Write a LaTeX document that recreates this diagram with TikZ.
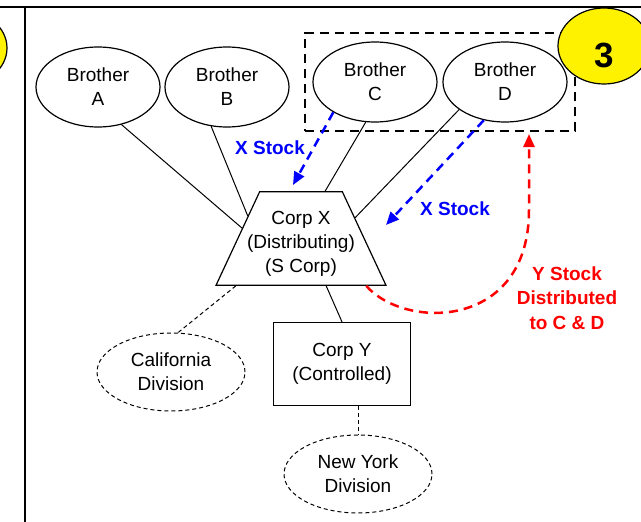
\documentclass[tikz,border=0pt]{standalone}
\usepackage{fontspec}
\setmainfont{Liberation Sans}
\usetikzlibrary{positioning, arrows.meta, shapes.geometric, fit}

\begin{document}
\begin{tikzpicture}[x=1pt, y=-1pt, on grid, node distance=129pt,
    font=\fontsize{19}{24}\selectfont,
    brother/.style={ellipse, draw, line width=1.2pt, minimum width=124pt, minimum height=80pt, inner sep=0pt, align=center},
    division/.style={ellipse, draw, dash pattern=on 4pt off 3pt, line width=1pt, minimum width=148pt, minimum height=78pt, inner sep=0pt, align=center},
    badge/.style={ellipse, draw, fill=yellow, line width=1.2pt, minimum width=92pt, minimum height=76pt},
    tie/.style={line width=1pt},
    divtie/.style={line width=1pt, dash pattern=on 4pt off 3pt},
    xflow/.style={blue, line width=2.5pt, dash pattern=on 9pt off 6pt, -{Triangle[length=13pt,width=11pt]}},
    yflow/.style={red, line width=2.5pt, dash pattern=on 9pt off 6pt, -{Triangle[length=13pt,width=11pt]}},
    flowlabel/.style={font=\fontsize{19}{24.5}\selectfont\bfseries, align=center}]
  \useasboundingbox (0,0) rectangle (641,522);

  % frame
  \draw[line width=2.5pt] (0,7) -- (641,7) (25,7) -- (25,522);
  \node[badge] (prevBadge) at (-39,48) {};

  % shareholders
  \node[brother] (broA) at (98,87) {Brother\\A};
  \node[brother] (broB) [right=129pt of broA] {Brother\\B};
  \node[brother] (broC) [right=148pt of broB, yshift=5pt] {Brother\\C};
  \node[brother] (broD) [right=130pt of broC] {Brother\\D};
  \node[draw, line width=2.5pt, dash pattern=on 9pt off 6pt, inner xsep=7.5pt, inner ysep=8.5pt, fit=(broC) (broD)] (cdBox) {};

  % step badge over the box
  \node[badge] (stepBadge) at (604,46) {};
  \node[font=\fontsize{35}{35}\selectfont\bfseries] (stepNum) at (604,55) {3};

  % corporations
  \node[trapezium, draw, line width=1.2pt, trapezium angle=65, inner xsep=-12.5pt, inner ysep=9pt,
        align=center] (corpX) at (301,238.5)
        {\rule{0pt}{23.6pt}Corp X\\(Distributing)\\(S Corp)};
  \node[draw, line width=1.2pt, minimum width=137pt, minimum height=83pt, align=center] (corpY) at (342,364)
        {Corp Y\\(Controlled)};
  \node[division] (calDiv) at (171,372) {California\\Division};
  \node[division] (nyDiv) at (358,474) {New York\\Division};

  % ownership lines
  \draw[tie] (broA.-58) -- (corpX.170);
  \draw[tie] (broB.-112) -- (corpX.157);
  \draw[tie] (broC.-103) -- (corpX.63);
  \draw[tie] (broD.-149) -- (corpX.21);
  \draw[tie] (corpX.-62) -- (corpY.north);
  \draw[divtie] (corpX.-144) -- (calDiv.80);
  \draw[divtie] (corpY.south -| nyDiv.north) -- (nyDiv.north);

  % stock transfers
  \coordinate (xTipC) at (293,185);
  \coordinate (xTipD) at (386,225);
  \coordinate (yTip) at (529,134);
  \draw[xflow] (broC.-144) -- (xTipC);
  \draw[xflow] (broD.-119) -- (xTipD);
  \draw[yflow] (corpX.-36) .. controls (405,330) and (529,330) .. (529,210) -- (yTip);

  \node[flowlabel, blue] (xLabelC) at (270,148) {X Stock};
  \node[flowlabel, blue] (xLabelD) at (455,209) {X Stock};
  \node[flowlabel, red] (yLabel) at (567,298) {Y Stock\\Distributed\\to C \& D};
\end{tikzpicture}
\end{document}
